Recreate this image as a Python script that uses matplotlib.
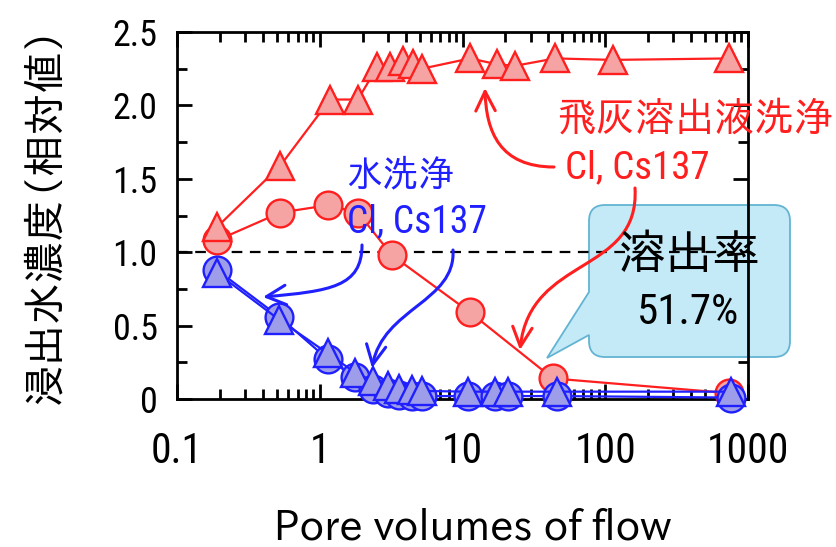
import matplotlib
matplotlib.use("Agg")
import matplotlib.pyplot as plt
import matplotlib.transforms as mtransforms
from matplotlib import font_manager
from matplotlib.path import Path
from matplotlib.patches import PathPatch, FancyArrowPatch
from matplotlib.ticker import MultipleLocator, LogLocator, NullFormatter

# values (pore volumes, relative concentration)
red_tri_x = [0.19, 0.53, 1.18, 1.85, 2.52, 3.1, 3.83, 4.5, 5.2, 11.3, 17.5, 23.4, 44.5, 113, 740]
red_tri_y = [1.17, 1.59, 2.04, 2.04, 2.26, 2.26, 2.30, 2.28, 2.25, 2.32, 2.28, 2.27, 2.32, 2.31, 2.32]
red_circ_x = [0.19, 0.53, 1.14, 1.85, 3.2, 11.3, 43, 740]
red_circ_y = [1.08, 1.27, 1.32, 1.27, 0.98, 0.59, 0.14, 0.04]
blue_x = [0.19, 0.52, 1.14, 1.77, 2.36, 3.0, 3.6, 4.4, 5.2, 10.9, 16.8, 21, 46, 760]
blue_tri_y = [0.86, 0.54, 0.31, 0.18, 0.12, 0.09, 0.07, 0.06, 0.055, 0.05, 0.05, 0.05, 0.05, 0.05]
blue_circ_y = [0.88, 0.56, 0.27, 0.15, 0.07, 0.04, 0.03, 0.02, 0.02, 0.02, 0.02, 0.02, 0.02, 0.01]

x_ticks = [0.1, 1, 10, 100, 1000]
x_ticklabels = ['0.1', '1', '10', '100', '1000']
y_ticks = [0, 0.5, 1.0, 1.5, 2.0, 2.5]
y_ticklabels = ['0', '0.5', '1.0', '1.5', '2.0', '2.5']

W, H, DPI = 836, 547, 100
installed = {f.name for f in font_manager.fontManager.ttflist}


def pick(*names):
    for n in names:
        if n in installed:
            return n
    return names[-1]


MAIN = pick('IPAPGothic', 'BIZ UDPGothic', 'Noto Sans CJK JP')
NARROW = pick('Roboto Condensed', 'Liberation Sans')
plt.rcParams['font.family'] = [MAIN, 'Noto Sans CJK JP', 'DejaVu Sans']
num_font = [NARROW, MAIN, 'DejaVu Sans']

RED, RED_FILL = '#ff1f1f', '#f5a3a3'
BLUE, BLUE_FILL = '#2020ff', '#9d9de9'

fig = plt.figure(figsize=(W / DPI, H / DPI), dpi=DPI)
ax = fig.add_axes([177 / W, 1 - 399 / H, 571 / W, 367 / H])
# picture pixel coordinates (origin top left) for the annotations
pix = mtransforms.Affine2D().scale(1 / DPI, -1 / DPI).translate(0, H / DPI) + fig.dpi_scale_trans

kw = dict(lw=1.6, ms=20, mew=1.7, clip_on=False)
ax.plot(red_circ_x, red_circ_y, 'o-', color=RED, mfc=RED_FILL, mec=RED, zorder=4, **kw)
ax.plot(red_tri_x, red_tri_y, '^-', color=RED, mfc=RED_FILL, mec=RED, zorder=4, **kw)
ax.plot(blue_x, blue_circ_y, 'o-', color=BLUE, mfc=BLUE_FILL, mec=BLUE, zorder=5, **kw)
ax.plot(blue_x, blue_tri_y, '^-', color=BLUE, mfc=BLUE_FILL, mec=BLUE, zorder=5, **kw)

ax.axhline(1.0, color='k', lw=1.6, ls=(0, (4.8, 3.4)), zorder=2.6)

ax.set_xscale('log')
ax.set_xlim(0.1, 1000)
ax.set_ylim(0, 2.5)
ax.set_xticks(x_ticks, x_ticklabels)
ax.set_yticks(y_ticks, y_ticklabels)
ax.xaxis.set_minor_locator(LogLocator(subs=range(2, 10)))
ax.xaxis.set_minor_formatter(NullFormatter())
ax.yaxis.set_minor_locator(MultipleLocator(0.25))
ax.tick_params(which='both', direction='in', top=True, right=True, width=2)
ax.tick_params(which='major', length=11)
ax.tick_params(which='minor', length=7)
ax.tick_params(axis='x', labelsize=30, pad=23)
ax.tick_params(axis='y', labelsize=26, pad=14)
for lab in ax.get_xticklabels() + ax.get_yticklabels():
    lab.set_family(num_font)
for s in ax.spines.values():
    s.set_linewidth(2)

# callout box with pointer
L, R, T, B, r = 589, 790, 205, 357, 16
verts = [(L + r, T), (R - r, T), (R, T), (R, T + r), (R, B - r), (R, B), (R - r, B),
         (L + r, B), (L, B), (L, B - r), (L, 335), (547, 358), (L, 292), (L, T + r),
         (L, T), (L + r, T), (L + r, T)]
codes = [Path.MOVETO, Path.LINETO, Path.CURVE3, Path.CURVE3, Path.LINETO, Path.CURVE3, Path.CURVE3,
         Path.LINETO, Path.CURVE3, Path.CURVE3, Path.LINETO, Path.LINETO, Path.LINETO, Path.LINETO,
         Path.CURVE3, Path.CURVE3, Path.CLOSEPOLY]
callout = PathPatch(Path(verts, codes), transform=pix, facecolor='#c4e9f7', edgecolor='#63b4d3',
                    lw=1.3, zorder=2.2, clip_on=False)
ax.add_artist(callout)

# curved arrows
arrows = [
    ([(362, 245), (362, 287), (330, 291), (263, 297)], BLUE),
    ([(453, 250), (456, 302), (383, 308), (372, 368)], BLUE),
    ([(554, 167), (500, 167), (486, 132), (485, 88)], RED),
    ([(635, 188), (640, 275), (530, 255), (520, 350)], RED),
]
for pts, col in arrows:
    p = Path(pts, [Path.MOVETO, Path.CURVE4, Path.CURVE4, Path.CURVE4])
    ax.add_artist(FancyArrowPatch(path=p, transform=pix, arrowstyle='->,head_length=0.7,head_width=0.35',
                                  mutation_scale=20, lw=2.2, color=col, zorder=6, clip_on=False))

# labels
ax.text(400, 175, '水洗浄', transform=pix, ha='center', va='center', fontsize=26, color=BLUE, zorder=7)
ax.text(417, 222, 'Cl, Cs137', transform=pix, ha='center', va='center', fontsize=27, color=BLUE,
        family=num_font, zorder=7)
ax.text(556, 120, '飛灰溶出液洗浄', transform=pix, ha='left', va='center', fontsize=28.5, color=RED, zorder=7)
ax.text(565, 168, 'Cl, Cs137', transform=pix, ha='left', va='center', fontsize=28, color=RED,
        family=num_font, zorder=7)
ax.text(690, 256, '溶出率', transform=pix, ha='center', va='center', fontsize=34, color='k', zorder=7)
ax.text(688, 313, '51.7%', transform=pix, ha='center', va='center', fontsize=31, color='k',
        family=num_font, zorder=7)

fig.text(45, 215, '浸出水濃度（相対値）', transform=pix, rotation=90, ha='center', va='center', fontsize=30)
fig.text(473, 527, 'Pore volumes of flow', transform=pix, ha='center', va='center', fontsize=29.5)

fig.savefig('out.png', dpi=DPI)
